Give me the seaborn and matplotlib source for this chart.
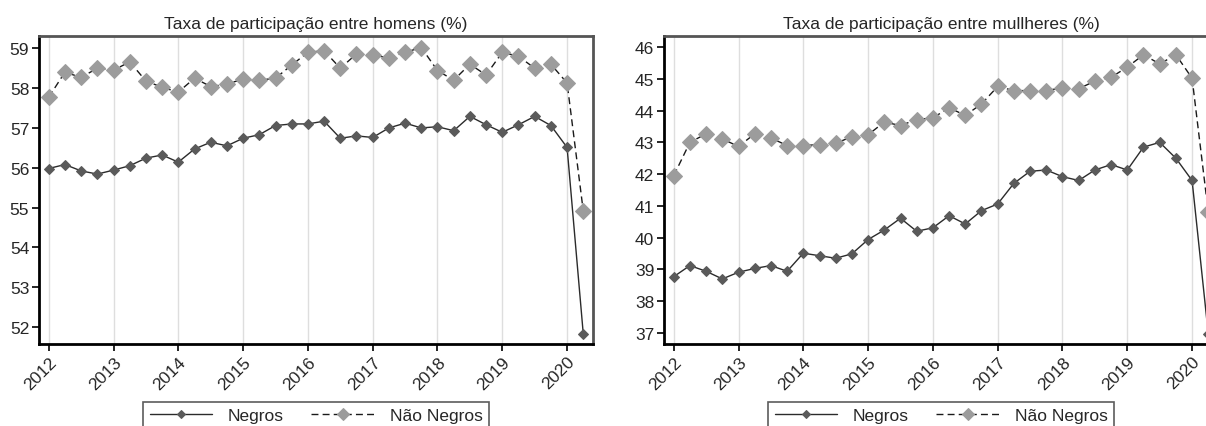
import numpy as np
import pandas as pd
import matplotlib
matplotlib.use("Agg")
import matplotlib.pyplot as plt
import seaborn as sns

# trimestres 2012T1 .. 2020T2
trimestres = np.arange(2012, 2020.26, 0.25)
anos = list(range(2012, 2021))

homens_negros = [55.98, 56.08, 55.92, 55.84, 55.94, 56.05, 56.24, 56.32, 56.14, 56.47,
                 56.64, 56.55, 56.74, 56.83, 57.06, 57.10, 57.10, 57.17, 56.74, 56.80,
                 56.76, 57.00, 57.12, 57.00, 57.03, 56.93, 57.29, 57.08, 56.89, 57.08,
                 57.29, 57.06, 56.51, 51.82]
homens_nao_negros = [57.77, 58.40, 58.27, 58.50, 58.45, 58.66, 58.18, 58.02, 57.90, 58.25,
                     58.04, 58.10, 58.23, 58.20, 58.25, 58.58, 58.90, 58.94, 58.50, 58.86,
                     58.83, 58.76, 58.90, 59.02, 58.44, 58.20, 58.60, 58.33, 58.90, 58.80,
                     58.50, 58.60, 58.13, 54.91]
mulheres_negros = [38.77, 39.12, 38.94, 38.70, 38.91, 39.03, 39.12, 38.94, 39.51, 39.43,
                   39.35, 39.49, 39.94, 40.24, 40.61, 40.20, 40.31, 40.69, 40.43, 40.85,
                   41.06, 41.71, 42.09, 42.13, 41.92, 41.80, 42.13, 42.30, 42.13, 42.85,
                   43.00, 42.50, 41.80, 36.97]
mulheres_nao_negros = [41.95, 43.00, 43.27, 43.11, 42.87, 43.27, 43.14, 42.90, 42.90, 42.93,
                       42.97, 43.18, 43.24, 43.64, 43.53, 43.72, 43.77, 44.09, 43.85, 44.21,
                       44.76, 44.63, 44.63, 44.63, 44.72, 44.69, 44.93, 45.05, 45.37, 45.76,
                       45.47, 45.76, 45.02, 40.80]

sns.set_style("white")
plt.rcParams['font.family'] = ['Liberation Sans', 'DejaVu Sans']

fig = plt.figure(figsize=(12.06, 4.27), dpi=100)
ax1 = fig.add_axes([39 / 1206, 82 / 427, 554 / 1206, 308 / 427])
ax2 = fig.add_axes([664 / 1206, 82 / 427, 554 / 1206, 308 / 427])


def painel(ax, negros, nao_negros, titulo, ylim, yticks):
    df = pd.DataFrame({"t": trimestres, "Negros": negros, "Não Negros": nao_negros})
    sns.lineplot(data=df, x="t", y="Negros", ax=ax, color="#2b2b2b", linewidth=1.0,
                 marker="D", markersize=5.5, markerfacecolor="#5a5a5a",
                 markeredgecolor="#5a5a5a", label="Negros")
    sns.lineplot(data=df, x="t", y="Não Negros", ax=ax, color="#1a1a1a", linewidth=1.0,
                 dashes=(5, 3), marker="D", markersize=8, markerfacecolor="#9c9c9c",
                 markeredgecolor="#9c9c9c", label="Não Negros")
    ax.set_xlim(2011.85, 2020.40)
    ax.set_ylim(*ylim)
    ax.set_xticks(anos)
    ax.set_xticklabels([str(a) for a in anos], rotation=45, ha="right",
                       rotation_mode="anchor", fontsize=12.5)
    ax.set_yticks(yticks)
    ax.set_yticklabels([str(v) for v in yticks], fontsize=12.5)
    ax.tick_params(axis="both", direction="out", length=5, width=1.2, color="black",
                   left=True, bottom=True, pad=2)
    ax.grid(axis="x", color="#dedede", linewidth=1.0)
    ax.set_axisbelow(True)
    for lado in ["left", "bottom"]:
        ax.spines[lado].set_color("black")
        ax.spines[lado].set_linewidth(2.0)
    for lado in ["top", "right"]:
        ax.spines[lado].set_color("#555555")
        ax.spines[lado].set_linewidth(2.0)
    ax.set_xlabel("")
    ax.set_ylabel("")
    ax.set_title(titulo, fontsize=12.5, pad=6)
    leg = ax.legend(loc="upper center", bbox_to_anchor=(0.5, -0.16), ncol=2,
                    fontsize=12.5, frameon=True, fancybox=False, handlelength=3.6,
                    columnspacing=1.6, handletextpad=0.9, borderpad=0.35,
                    markerscale=0.75)
    leg.get_frame().set_edgecolor("#333333")
    leg.get_frame().set_linewidth(1.2)


painel(ax1, homens_negros, homens_nao_negros, "Taxa de participação entre homens (%)",
       (51.57, 59.31), list(range(52, 60)))
painel(ax2, mulheres_negros, mulheres_nao_negros, "Taxa de participação entre mullheres (%)",
       (36.65, 46.35), list(range(37, 47)))

fig.savefig("out.png", dpi=100)
